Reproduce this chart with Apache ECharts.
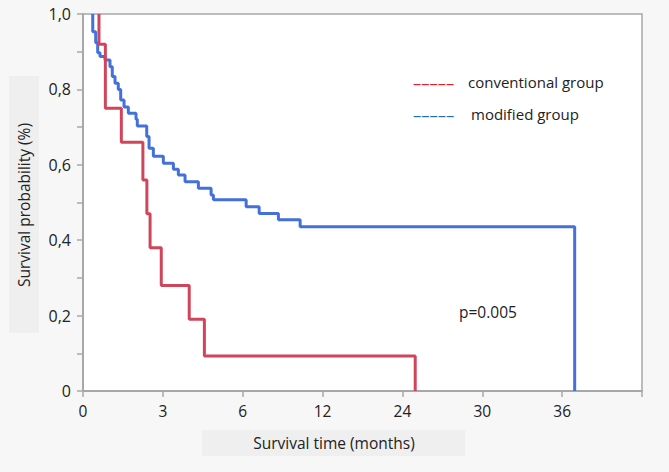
<!DOCTYPE html>
<html>
<head>
<meta charset="utf-8">
<script src="https://cdn.jsdelivr.net/npm/echarts@6/dist/echarts.min.js"></script>
<style>
html,body{margin:0;padding:0;background:#f7f7f7;}
#chart{width:669px;height:472px;}
</style>
</head>
<body>
<div id="chart"></div>
<script>
// X axis: equally spaced ticks, labelled with these month values
var xTickLabels = ['0', '3', '6', '12', '24', '30', '36', ''];
var yTickLabels = ['0', '', '0,2', '', '0,4', '', '0,6', '', '0,8', '', '1,0'];

// Conventional group: drop positions (in tick-index units) and survival after drop
var convTimes = [0.20, 0.20, 0.28, 0.48, 0.75, 0.80, 0.84, 0.98, 1.33, 1.52, 4.16];
var convSurv  = [1.00, 0.92, 0.75, 0.66, 0.56, 0.47, 0.38, 0.28, 0.19, 0.093, 0];

// Modified group
var modTimes = [0.122, 0.122, 0.159, 0.184, 0.213, 0.276, 0.338, 0.367, 0.401, 0.442, 0.472,
                0.514, 0.568, 0.664, 0.680, 0.798, 0.827, 0.881, 1.006, 1.132, 1.194,
                1.278, 1.445, 1.604, 1.633, 2.043, 2.206, 2.447, 2.719, 6.157];
var modSurv  = [1.00, 0.953, 0.924, 0.897, 0.887, 0.878, 0.860, 0.834, 0.816, 0.800, 0.772,
                0.753, 0.737, 0.721, 0.703, 0.675, 0.644, 0.623, 0.604, 0.588, 0.573,
                0.555, 0.538, 0.520, 0.507, 0.489, 0.471, 0.454, 0.436, 0];

var seriesNames = ['conventional group', 'modified group'];

function pairs(t, s) { return t.map(function (v, i) { return [v, s[i]]; }); }

var chart = echarts.init(document.getElementById('chart'), null, {renderer: 'svg'});
var font = '"Open Sans", "Noto Sans", sans-serif';
chart.setOption({
  backgroundColor: '#f7f7f7',
  animation: false,
  grid: {left: 83, top: 14, right: 27, bottom: 81, show: true, backgroundColor: '#ffffff', borderColor: '#a8a8a8', borderWidth: 1.5},
  xAxis: {
    type: 'value', min: 0, max: 7, interval: 1,
    axisLine: {lineStyle: {color: '#a8a8a8', width: 2}},
    axisTick: {show: true, length: 6, lineStyle: {color: '#a8a8a8', width: 1.5}},
    splitLine: {show: false},
    axisLabel: {color: '#222', fontSize: 15.5, fontFamily: font, margin: 12,
      formatter: function (v) { return xTickLabels[Math.round(v)] || ''; }}
  },
  yAxis: {
    type: 'value', min: 0, max: 1, interval: 0.1,
    axisLine: {show: true, lineStyle: {color: '#a8a8a8', width: 2}},
    axisTick: {show: true, length: 6, lineStyle: {color: '#a8a8a8', width: 1.5}},
    splitLine: {show: false},
    axisLabel: {color: '#222', fontSize: 16, fontFamily: font, margin: 12,
      formatter: function (v) { return yTickLabels[Math.round(v * 10)] || ''; }}
  },
  series: [
    {name: seriesNames[0], type: 'line', step: 'end', symbol: 'none', data: pairs(convTimes, convSurv),
     lineStyle: {color: '#d0455a', width: 3}, z: 3},
    {name: seriesNames[1], type: 'line', step: 'end', symbol: 'none', data: pairs(modTimes, modSurv),
     lineStyle: {color: '#4470dc', width: 3}, z: 2}
  ],
  graphic: [
    {type: 'rect', left: 9, top: 76, shape: {width: 30, height: 257}, style: {fill: '#efefef'}, z: -1},
    {type: 'text', x: 24, y: 205, rotation: Math.PI / 2,
     style: {text: 'Survival probability (%)', font: '15.5px ' + font, fill: '#222', align: 'center', verticalAlign: 'middle'}},
    {type: 'rect', left: 202, top: 430, shape: {width: 263, height: 26}, style: {fill: '#efefef'}, z: -1},
    {type: 'text', x: 334, y: 443, style: {text: 'Survival time (months)', font: '15.5px ' + font, fill: '#222', align: 'center', verticalAlign: 'middle'}},
    {type: 'text', x: 413, y: 82, style: {text: '\u2013\u2013\u2013\u2013\u2013', font: '16.5px ' + font, fill: '#e8202a', verticalAlign: 'middle'}},
    {type: 'text', x: 468, y: 82, style: {text: seriesNames[0], font: '15px ' + font, fill: '#222', verticalAlign: 'middle'}},
    {type: 'text', x: 413, y: 114, style: {text: '\u2013\u2013\u2013\u2013\u2013', font: '16.5px ' + font, fill: '#1f6fb8', verticalAlign: 'middle'}},
    {type: 'text', x: 471, y: 114, style: {text: seriesNames[1], font: '15px ' + font, fill: '#222', verticalAlign: 'middle'}},
    {type: 'text', x: 459, y: 312, style: {text: 'p=0.005', font: '15.5px ' + font, fill: '#222', verticalAlign: 'middle'}}
  ]
});
</script>
</body>
</html>
